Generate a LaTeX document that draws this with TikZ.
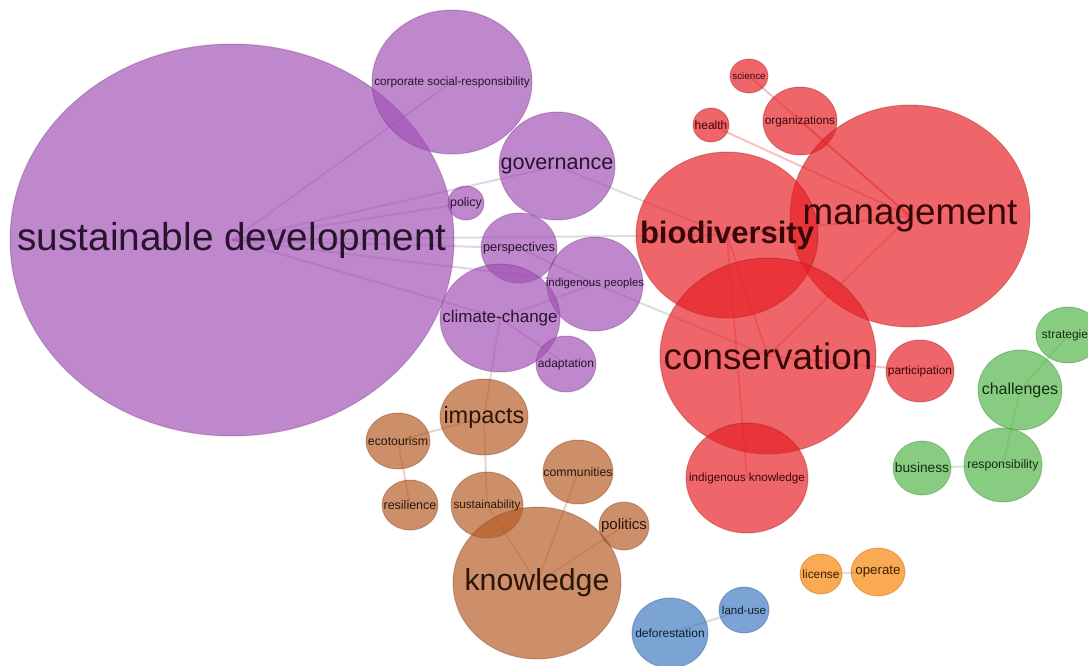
\documentclass[tikz,border=0pt]{standalone}
\usepackage{fontspec}
\setmainfont{Liberation Sans}
\usetikzlibrary{shapes.geometric,backgrounds}

% livello per le scritte, sopra le bolle
\pgfdeclarelayer{fronte}
\pgfsetlayers{background,main,fronte}

\definecolor{viola}{RGB}{160,80,180}
\definecolor{rosso}{RGB}{230,30,35}
\definecolor{marrone}{RGB}{180,90,35}
\definecolor{verde}{RGB}{80,180,70}
\definecolor{blu}{RGB}{60,120,190}
\definecolor{arancio}{RGB}{248,130,0}

\newcommand\fsz[1]{\fontsize{#1}{#1}\selectfont}

\begin{document}
\begin{tikzpicture}[x=0.5pt,y=-0.5pt,
    bolla/.style={ellipse,inner sep=0pt,fill=#1,fill opacity=0.68,
      draw=#1!70!black,draw opacity=0.35,line width=0.5pt},
    testo/.style={text=#1!25!black,inner sep=0pt},
    arco/.style={draw=#1,line width=1pt,draw opacity=0.27}]
        \useasboundingbox (0,0) rectangle (1088,665);

        % Bolle: nome/x/y/semiasse x/semiasse y/colore/corpo/parola
        \foreach \nome/\px/\py/\rx/\ry/\col/\corpo/\parola in {
            sd/232/240/222/196/viola/19.4/{sustainable development},
            csr/452/82/80/72/viola/5.9/{corporate social-responsibility},
            gov/557/166/58/54/viola/10.8/governance,
            pol/466/203/18/17/viola/6.2/policy,
            persp/519/248/38/35/viola/6.4/perspectives,
            indp/595/284/48/47/viola/5.7/{indigenous peoples},
            clim/500/318/60/54/viola/8.5/climate-change,
            adapt/566/364/30/28/viola/6.0/adaptation,
            sci/749/76/19/17/rosso/4.9/science,
            hea/711/125/18/17/rosso/6.0/health,
            org/800/121/37/34/rosso/5.9/organizations,
            man/910/216/120/111/rosso/18.4/management,
            bio/727/235/91/83/rosso/15.5/{\bfseries biodiversity},
            cons/768/356/108/98/rosso/18.4/conservation,
            ik/747/478/61/55/rosso/5.85/{indigenous knowledge},
            part/920/371/34/31/rosso/5.95/participation,
            str/1068/335/32/28/verde/6.0/strategies,
            cha/1020/390/42/40/verde/8.0/challenges,
            resp/1003/465/39/37/verde/6.15/responsibility,
            bus/922/468/29/27/verde/6.85/business,
            imp/484/417/44/38/marrone/11.75/impacts,
            eco/398/441/32/28/marrone/6.15/ecotourism,
            res/410/505/28/25/marrone/6.25/resilience,
            sus/487/505/36/33/marrone/5.85/sustainability,
            com/578/472/35/32/marrone/6.15/communities,
            poli/624/526/25/24/marrone/7.5/politics,
            know/537/583/84/76/marrone/15.15/knowledge,
            def/670/633/38/35/blu/6.0/deforestation,
            land/744/610/25/23/blu/5.75/land-use,
            lic/821/574/21/20/arancio/5.95/license,
            ope/878/572/27/24/arancio/6.65/operate}
        {
            \node[bolla=\col,minimum width=\rx pt,minimum height=\ry pt] (\nome) at (\px,\py) {};
            \begin{pgfonlayer}{fronte}
                \node[testo=\col,font=\fsz{\corpo}] (\nome-t) at (\nome) {\parola};
            \end{pgfonlayer}
        }

        % Archi, sotto le bolle
        \begin{pgfonlayer}{background}
            \foreach \a/\b in {sd/csr,sd/gov,sd/pol,sd/persp,sd/indp,sd/clim,
                clim/adapt,clim/indp,persp/indp}
                \draw[arco=viola] (\a.center) -- (\b.center);
            \foreach \a/\b in {sd/bio,gov/bio,indp/cons,clim/imp}
                \draw[arco=gray] (\a.center) -- (\b.center);
            \foreach \a/\b in {bio/cons,bio/man,bio/ik,cons/man,cons/part,
                org/man,sci/man,hea/man}
                \draw[arco=rosso] (\a.center) -- (\b.center);
            \foreach \a/\b in {imp/eco,eco/res,imp/sus,sus/know,com/know,poli/know}
                \draw[arco=marrone] (\a.center) -- (\b.center);
            \foreach \a/\b in {cha/str,cha/resp,resp/bus}
                \draw[arco=verde] (\a.center) -- (\b.center);
            \draw[arco=gray] (def.center) -- (land.center);
            \draw[arco=gray] (lic.center) -- (ope.center);
        \end{pgfonlayer}
\end{tikzpicture}
\end{document}
